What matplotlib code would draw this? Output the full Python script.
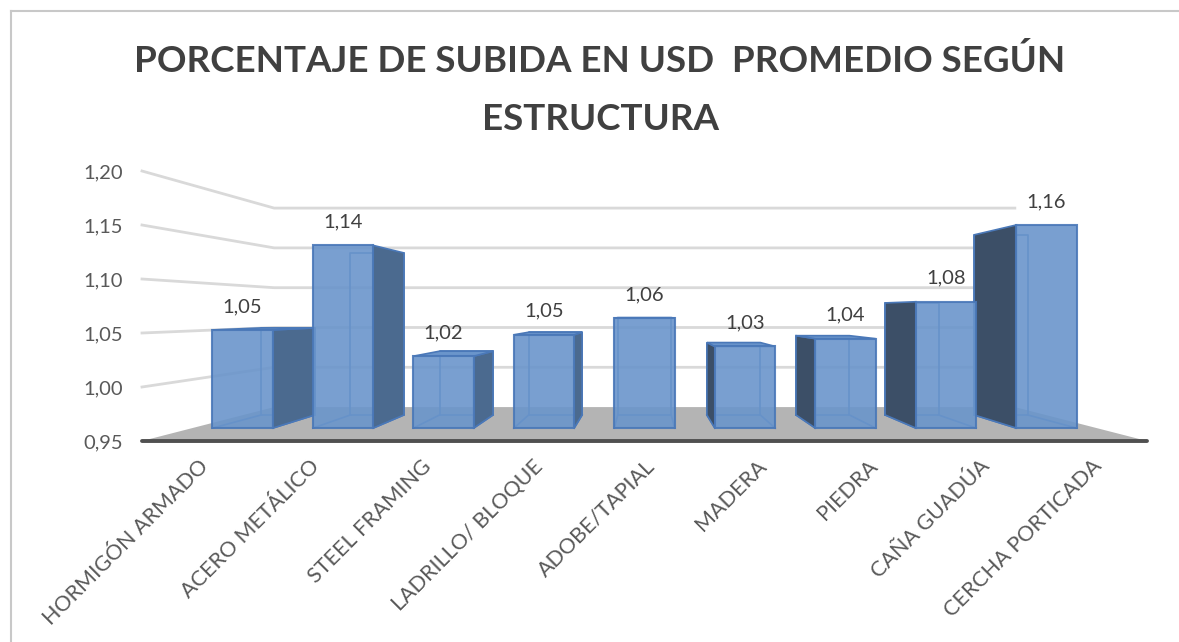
import matplotlib
matplotlib.use("Agg")
import matplotlib.pyplot as plt
from matplotlib.patches import Polygon
from matplotlib.lines import Line2D

# data
categories = ["HORMIGÓN ARMADO", "ACERO METÁLICO", "STEEL FRAMING", "LADRILLO/ BLOQUE",
              "ADOBE/TAPIAL", "MADERA", "PIEDRA", "CAÑA GUADÚA", "CERCHA PORTICADA"]
values = [1.051, 1.138, 1.024, 1.046, 1.063, 1.034, 1.042, 1.080, 1.159]
y_ticks = [0.95, 1.00, 1.05, 1.10, 1.15, 1.20]
title_lines = ["PORCENTAJE DE SUBIDA EN USD  PROMEDIO SEGÚN", "ESTRUCTURA"]

# fake 3d: depth factors towards a vanishing point
BASE = 0.95
VX = (len(categories) - 1) / 2.0
VY = 1.0694
F_BAR_FRONT = 0.90
F_BAR_BACK = 0.798
F_WALL = 0.737
BAR_W = 0.6

FACE = "#6a95cb"
EDGE = "#4a78b8"
SIDE_L = "#4b6a8f"
SIDE_R = "#3c4f67"
GRID = "#d9d9d9"
TXT = "#595959"

plt.rcParams['font.family'] = ['Lato', 'DejaVu Sans']


def proj(x, v, f):
    return (VX + (x - VX) * f, VY + (v - VY) * f)


fig = plt.figure(figsize=(11.79, 6.42), dpi=100)
ax = fig.add_axes([142 / 1179, (642 - 441) / 642, 1005 / 1179, 270 / 642])
ax.set_xlim(-0.5, len(categories) - 0.5)
ax.set_ylim(BASE, 1.20)
for s in ax.spines.values():
    s.set_visible(False)

# gridlines: left wall + back wall
x_l, x_r = -0.5, len(categories) - 0.5
for t in y_ticks[1:]:
    pts = [proj(x_l, t, 1.0), proj(x_l, t, F_WALL), proj(x_r, t, F_WALL)]
    ax.plot([p[0] for p in pts], [p[1] for p in pts], color=GRID, lw=2, zorder=1,
            clip_on=False, solid_joinstyle='round')

# floor
floor = [proj(x_l, BASE, 1.0), proj(x_r, BASE, 1.0), proj(x_r, BASE, F_WALL), proj(x_l, BASE, F_WALL)]
ax.add_patch(Polygon(floor, closed=True, facecolor="#b4b4b4", edgecolor="none", zorder=2, clip_on=False))
ax.plot([x_l, x_r], [BASE, BASE], color="#505050", lw=2.8, zorder=3, clip_on=False,
        solid_capstyle='round')

# bars, drawn from outside towards the centre
order = sorted(range(len(values)), key=lambda i: -abs(i - VX))
z = 4
for i in order:
    v = values[i]
    x0, x1 = i - BAR_W / 2, i + BAR_W / 2
    fb0, fb1 = proj(x0, BASE, F_BAR_FRONT), proj(x1, BASE, F_BAR_FRONT)
    ft0, ft1 = proj(x0, v, F_BAR_FRONT), proj(x1, v, F_BAR_FRONT)
    bb0, bb1 = proj(x0, BASE, F_BAR_BACK), proj(x1, BASE, F_BAR_BACK)
    bt0, bt1 = proj(x0, v, F_BAR_BACK), proj(x1, v, F_BAR_BACK)

    # hidden back edges
    back = [bb0, bb1, bt1, bt0, bb0]
    ax.plot([p[0] for p in back], [p[1] for p in back], color=EDGE, lw=1.2, zorder=z, clip_on=False)
    for a, b in [(fb0, bb0), (fb1, bb1)]:
        ax.plot([a[0], b[0]], [a[1], b[1]], color=EDGE, lw=1.2, zorder=z, clip_on=False)
    z += 1
    # side face
    if x1 < VX:
        side = [fb1, bb1, bt1, ft1]
        ax.add_patch(Polygon(side, closed=True, facecolor=SIDE_L, edgecolor=EDGE, lw=1.2,
                             zorder=z, clip_on=False))
    elif x0 > VX:
        side = [fb0, bb0, bt0, ft0]
        ax.add_patch(Polygon(side, closed=True, facecolor=SIDE_R, edgecolor=EDGE, lw=1.2,
                             zorder=z, clip_on=False))
    # top face
    if v < VY:
        top = [ft0, ft1, bt1, bt0]
        ax.add_patch(Polygon(top, closed=True, facecolor=FACE, edgecolor=EDGE, lw=1.2,
                             zorder=z, clip_on=False))
    z += 1
    front = [fb0, fb1, ft1, ft0]
    ax.add_patch(Polygon(front, closed=True, facecolor=FACE, edgecolor=EDGE, lw=1.5, alpha=0.9,
                         zorder=z, clip_on=False))
    z += 1
    cx, cy = proj(i, v, F_BAR_FRONT)
    ax.annotate(f"{v:.2f}".replace(".", ","), (cx, cy), xytext=(0, 13), textcoords="offset points",
                ha="center", va="baseline", fontsize=14.5, color="#404040", zorder=100)

# axis ticks
ax.set_yticks(y_ticks)
ax.set_yticklabels([f"{t:.2f}".replace(".", ",") for t in y_ticks])
ax.tick_params(axis="y", length=0, pad=14, labelsize=14.5, labelcolor=TXT)
ax.set_xticks(range(len(categories)))
ax.set_xticklabels(categories, rotation=45, ha="right", rotation_mode="anchor")
ax.tick_params(axis="x", length=0, pad=11, labelsize=15.5, labelcolor=TXT)

# title, two lines placed by baseline
fig.text(600 / 1179, 1 - 72 / 642, title_lines[0], ha="center", va="baseline", fontsize=26.5,
         fontweight="bold", color="#404040")
fig.text(601 / 1179, 1 - 130 / 642, title_lines[1], ha="center", va="baseline", fontsize=26.5,
         fontweight="bold", color="#404040")

# chart border
fig.add_artist(Line2D([11 / 1179, 1], [1 - 11 / 642, 1 - 11 / 642], color="#c8c8c8", lw=1.5))
fig.add_artist(Line2D([11 / 1179, 11 / 1179], [0, 1 - 11 / 642], color="#c8c8c8", lw=1.5))

fig.savefig("out.png", dpi=100)
